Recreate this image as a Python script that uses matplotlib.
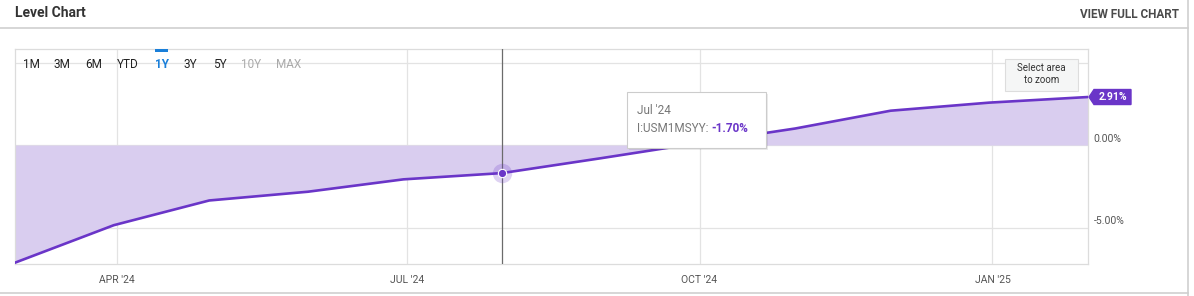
import matplotlib
matplotlib.use("Agg")
import matplotlib.pyplot as plt
import matplotlib.dates as mdates
import matplotlib.patches as mpatches
import pandas as pd

# monthly year-over-year values (%), month-end dates
dates = pd.date_range("2024-02-29", "2025-01-31", freq="ME")
values = [-7.13, -4.86, -3.36, -2.83, -2.08, -1.70, -0.80, 0.10, 1.00, 2.08, 2.57, 2.91]
series_name = "I:USM1MSYY"
hover_idx = 5  # Jul '24

tick_dates = pd.to_datetime(["2024-04-01", "2024-07-01", "2024-10-01", "2025-01-01"])
tick_labels = ["APR '24", "JUL '24", "OCT '24", "JAN '25"]
y_grid = [-5, 0, 5]
y_labels = {0: "0.00%", -5: "-5.00%"}
buttons = ["1M", "3M", "6M", "YTD", "1Y", "3Y", "5Y", "10Y", "MAX"]
button_x = [31, 62, 94, 128, 162, 190, 220, 251, 289]
active_button = "1Y"
disabled_buttons = ["10Y", "MAX"]

purple = "#6a35c8"
fill_c = "#d9cdef"
grid_c = "#e3e3e3"
font = "Roboto"

W, H = 1194, 296
fig = plt.figure(figsize=(W / 100, H / 100), dpi=100)
fig.patch.set_facecolor("white")


def fx(x):
    return x / W


def fy(y):
    return 1 - y / H


# frame of the widget
fig.add_artist(plt.Line2D([0, fx(1188)], [fy(28), fy(28)], color="#cfcfcf", lw=1.2))
fig.add_artist(plt.Line2D([fx(1188), fx(1188)], [0, 1], color="#cfcfcf", lw=1.2))
fig.add_artist(plt.Line2D([0, fx(1188)], [fy(293), fy(293)], color="#cfcfcf", lw=1.2))
fig.text(fx(15), fy(13), "Level Chart", fontsize=10, fontweight="bold", color="#333333",
         family=font, va="center", ha="left")
fig.text(fx(1179), fy(14), "VIEW FULL CHART", fontsize=8.5, fontweight="bold", color="#4a4a4a",
         family=font, va="center", ha="right")

ax = fig.add_axes([fx(15), fy(264), (1088 - 15) / W, (264 - 49) / H])
ax.fill_between(dates, values, 0, color=fill_c, lw=0, zorder=1)
ax.plot(dates, values, color=purple, lw=1.9, zorder=3, solid_joinstyle="round")

ax.set_xlim(dates[0], dates[-1])
ax.set_ylim(-7.21, 5.82)
ax.set_xticks(tick_dates)
ax.set_xticklabels(tick_labels)
ax.set_yticks(y_grid)
ax.set_yticklabels([])
ax.tick_params(length=0, pad=8, labelsize=7.5, colors="#555555")
for lab in ax.get_xticklabels():
    lab.set_family(font)
ax.grid(True, color=grid_c, lw=0.9, zorder=0)
ax.set_axisbelow(True)
for s in ax.spines.values():
    s.set_color("#dcdcdc")
    s.set_linewidth(0.9)

for v, txt in y_labels.items():
    ax.annotate(txt, xy=(1, v), xycoords=("axes fraction", "data"), xytext=(4, 4.5),
                textcoords="offset points", fontsize=7.5, color="#555555", family=font,
                va="center", ha="left")

# crosshair and hover marker
hx, hv = dates[hover_idx], values[hover_idx]
ax.axvline(hx, color="#6b6b6b", lw=0.9, zorder=4)
ax.plot([hx], [hv], "o", ms=14, color=purple, alpha=0.22, mew=0, zorder=5)
ax.plot([hx], [hv], "o", ms=6, mfc=purple, mec="white", mew=0.8, zorder=6)

# range buttons
for b, bx in zip(buttons, button_x):
    c = "#1a7fd9" if b == active_button else ("#aaaaaa" if b in disabled_buttons else "#222222")
    w = "bold" if b == active_button else "normal"
    fig.text(fx(bx), fy(65), b, fontsize=8.5, color=c, fontweight=w, family=font,
             ha="center", va="center")
fig.add_artist(mpatches.Rectangle((fx(155), fy(52)), 13 / W, 3 / H, color="#1a7fd9", lw=0))

# select area box
fig.add_artist(mpatches.Rectangle((fx(1005), fy(91)), 73 / W, 32 / H, facecolor="#f5f6f6",
                                  edgecolor="#dddddd", lw=0.8))
fig.text(fx(1041.5), fy(68), "Select area", fontsize=7, color="#333333", family=font,
         ha="center", va="center")
fig.text(fx(1041.5), fy(80), "to zoom", fontsize=7, color="#333333", family=font,
         ha="center", va="center")

# tooltip
fig.add_artist(mpatches.Rectangle((fx(629), fy(150)), 139 / W, 56 / H, facecolor="#000000",
                                  alpha=0.08, lw=0, zorder=9))
fig.add_artist(mpatches.Rectangle((fx(627), fy(148)), 139 / W, 56 / H, facecolor="white",
                                  edgecolor="#cccccc", lw=0.8, zorder=10))
fig.text(fx(637), fy(110), hx.strftime("%b '%y"), fontsize=8.5, color="#777777", family=font,
         ha="left", va="center", zorder=11)
t1 = fig.text(fx(637), fy(128), series_name + ": ", fontsize=8.5, color="#777777", family=font,
              ha="left", va="center", zorder=11)
fig.canvas.draw()
r = fig.canvas.get_renderer()
bb = t1.get_window_extent(r)
fig.text(bb.x1 / W, fy(128), f"{hv:.2f}%", fontsize=8.5, fontweight="bold", color=purple,
         family=font, ha="left", va="center", zorder=11)

# last value tag
last_px = ax.transData.transform((mdates.date2num(dates[-1]), values[-1]))
ty = last_px[1]
tx = last_px[0] + 1
tag = mpatches.Polygon([(tx, ty), (tx + 5, ty + 7.5), (tx + 42, ty + 7.5), (tx + 42, ty - 7.5),
                        (tx + 5, ty - 7.5)], closed=True, transform=None, color=purple, zorder=10)
fig.add_artist(tag)
fig.text((tx + 23.5) / W, ty / H, f"{values[-1]:.2f}%", fontsize=7.5, fontweight="bold",
         color="white", family=font, ha="center", va="center", zorder=11)

fig.savefig("out.png", dpi=100, facecolor="white")
